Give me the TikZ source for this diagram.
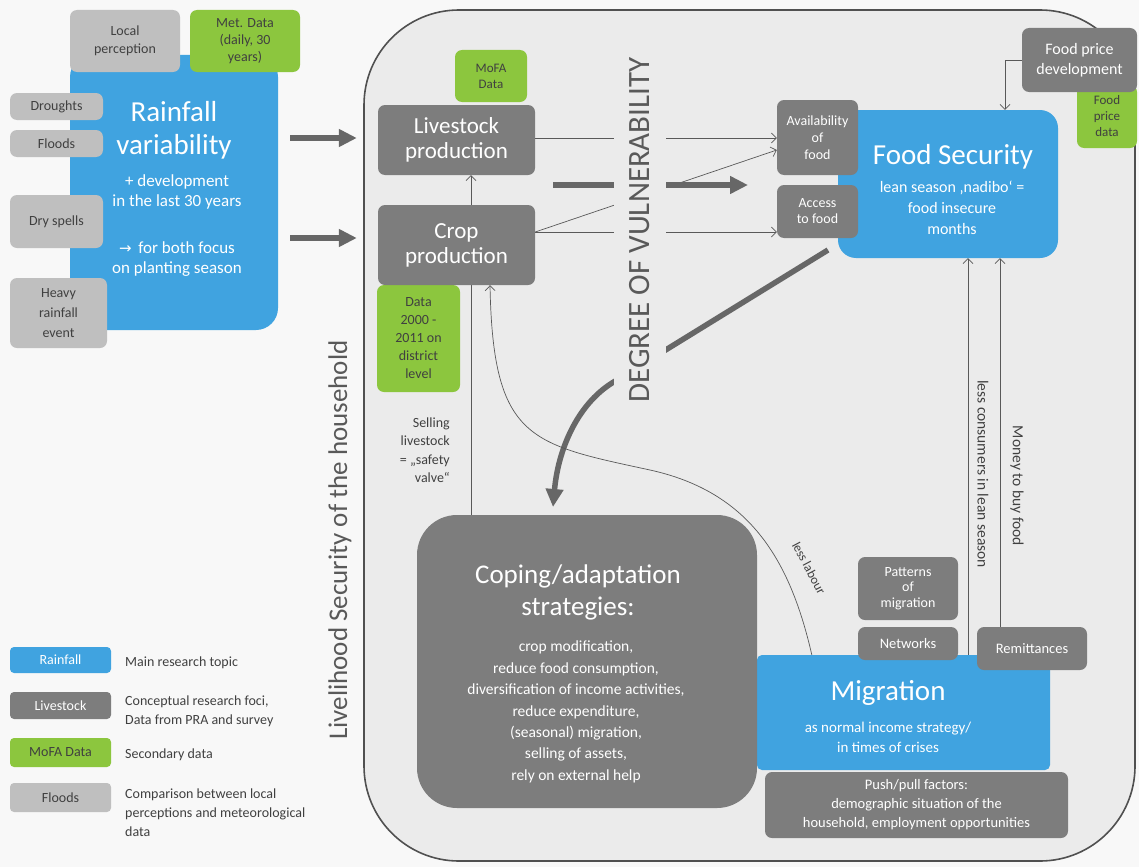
\documentclass[tikz,border=0pt]{standalone}
\usepackage{fontspec}
\setmainfont{Carlito}
\newfontfamily\symfont{DejaVu Sans}
\usetikzlibrary{arrows.meta,calc}
\definecolor{cblue}{HTML}{40A3E0}
\definecolor{cdark}{HTML}{7D7D7D}
\definecolor{clight}{HTML}{BFBFBF}
\definecolor{cgreen}{HTML}{8CC63E}
\definecolor{cbg}{HTML}{EBEBEB}
\definecolor{cpage}{HTML}{F8F8F8}
\definecolor{cborder}{HTML}{505050}
\definecolor{cline}{HTML}{595959}
\definecolor{cthick}{HTML}{676767}
\definecolor{ctext}{HTML}{404040}
\newcommand\myfs[2]{\fontsize{#1}{#2}\selectfont}
\pgfdeclarelayer{bglayer}
\pgfdeclarelayer{midlayer}
\pgfsetlayers{bglayer,midlayer,main}
\begin{document}
\begin{tikzpicture}[x=1pt,y=-1pt,
  bx/.style={rounded corners=7pt, align=center, inner sep=1pt},
  dbox/.style={bx, fill=cdark, text=white},
  lbox/.style={bx, fill=clight, text=ctext},
  gbox/.style={bx, fill=cgreen, text=ctext},
  bbox/.style={bx, fill=cblue, text=white},
  wtext/.style={text=white, align=center, inner sep=0pt},
  ltext/.style={text=ctext, align=left, anchor=west, inner sep=0pt, font=\myfs{14}{19}},
  conn/.style={draw=cline, line width=0.7pt},
  arr/.style={conn, -{Straight Barb[length=5pt,width=10pt]}},
  fat/.style={draw=cthick, line width=5.5pt, -{Triangle[length=18pt,width=17pt]}},
]
\useasboundingbox (0,0) rectangle (1139,867);
\begin{pgfonlayer}{bglayer}
\fill[cpage] (0,0) rectangle (1139,867);
\draw[draw=cborder, line width=1.6pt, fill=cbg] (364,430) [rounded corners=95pt] -- (364,10) -- (1135,10) -- (1135,861) -- (364,861) -- cycle;
\end{pgfonlayer}

% --- Rainfall cluster
\node[bbox, rounded corners=22pt, minimum width=208, minimum height=275] (rain) at (174,192.5) {};
\node[wtext, font=\myfs{29}{33}] (raint) at (174,130) {Rainfall\\variability};
\node[wtext, font=\myfs{17}{20}] (rains1) at (177,192) {+ development\\in the last 30 years};
\node[wtext, font=\myfs{17}{20}] (rains2) at (177,259) {{\symfont\myfs{15}{20}→}\, for both focus\\on planting season};
\node[lbox, minimum width=110, minimum height=62, font=\myfs{14}{18}] (local) at (125,41) {Local\\perception};
\node[gbox, minimum width=110, minimum height=62, font=\myfs{14}{17}] (met) at (245,41) {Met. Data\\(daily, 30\\years)};
\node[lbox, minimum width=93, minimum height=27, font=\myfs{14}{17}] (drought) at (56.5,106.5) {Droughts};
\node[lbox, minimum width=93, minimum height=27, font=\myfs{14}{17}] (flood) at (56.5,143.5) {Floods};
\node[lbox, minimum width=93, minimum height=53, font=\myfs{14}{17}] (dry) at (56.5,221.5) {Dry spells};
\node[lbox, minimum width=97, minimum height=70, font=\myfs{14}{20}] (heavy) at (58.5,313) {Heavy\\rainfall\\event};

% --- production
\node[gbox, minimum width=72, minimum height=52, font=\myfs{13}{16}] (mofa) at (491,76) {MoFA\\Data};
\node[dbox, minimum width=157, minimum height=70, font=\myfs{23}{25}] (live) at (456.5,140) {Livestock\\production};
\node[gbox, minimum width=83, minimum height=107, font=\myfs{14}{18}] (datag) at (418.5,338.5) {Data\\2000 -\\2011 on\\district\\level};
\node[dbox, minimum width=157, minimum height=80, font=\myfs{23}{25}] (crop) at (456.5,245) {Crop\\production};
\node[text=ctext, align=right, anchor=east, inner sep=0pt, font=\myfs{14}{18.5}] (safety) at (450,450) {Selling\\livestock\\= „safety\\valve“};

\node[rotate=90, fill=cbg, text=cline, inner xsep=0pt, inner ysep=16pt, font=\myfs{31}{31}] (dov) at (640,230) {DEGREE OF VULNERABILITY};

% --- food security
\node[bbox, rounded corners=18pt, minimum width=220, minimum height=148] (fs) at (948,184) {};
\node[wtext, font=\myfs{29}{30}] (fst) at (953,157) {Food Security};
\node[wtext, font=\myfs{16}{21}] (fss) at (952,208) {lean season ‚nadibo‘ =\\food insecure\\months};
\node[dbox, minimum width=81, minimum height=75, font=\myfs{14}{17}] (avail) at (817.5,137.5) {Availability\\of\\food};
\node[dbox, minimum width=81, minimum height=53, font=\myfs{14}{16}] (access) at (817.5,211.5) {Access\\to food};
\node[gbox, minimum width=60, minimum height=63, font=\myfs{13}{16}] (fpdata) at (1107,116.5) {Food\\price\\data};
\node[dbox, minimum width=115, minimum height=64, font=\myfs{16}{20}] (fpd) at (1079.5,60) {Food price\\development};

% --- coping & migration
\node[bbox, rounded corners=5pt, minimum width=293, minimum height=115] (mig) at (903.5,712.5) {};
\node[wtext, font=\myfs{29}{30}] (migt) at (888,693) {Migration};
\node[wtext, font=\myfs{15}{20}] (migs) at (888,737) {as normal income strategy/\\in times of crises};
\node[dbox, rounded corners=40pt, minimum width=340, minimum height=293] (coping) at (587,661.5) {};
\node[wtext, font=\myfs{27}{32}] (copt) at (578,592) {Coping/adaptation\\strategies:};
\node[wtext, font=\myfs{15.5}{21.4}] (copl) at (576,712) {crop modification,\\reduce food consumption,\\diversification of income activities,\\reduce expenditure,\\(seasonal) migration,\\selling of assets,\\rely on external help};
\node[dbox, minimum width=100, minimum height=63, font=\myfs{14}{15.5}] (pat) at (908,588.5) {Patterns\\of\\migration};
\node[dbox, minimum width=100, minimum height=33, font=\myfs{14.5}{16}] (net) at (908,643.5) {Networks};
\node[dbox, minimum width=110, minimum height=43, font=\myfs{14.5}{16}] (rem) at (1032,648.5) {Remittances};
\node[dbox, minimum width=303, minimum height=66, font=\myfs{14.5}{19}] (push) at (916.5,805) {Push/pull factors:\\demographic situation of the\\household, employment opportunities};

% --- labels
\node[text=ctext, rotate=-90, inner sep=0pt, font=\myfs{15.5}{16}] (lcl) at (983,474) {less consumers in lean season};
\node[text=ctext, rotate=-90, inner sep=0pt, font=\myfs{15.5}{16}] (mbl) at (1017,486) {Money to buy food};
\node[text=ctext, rotate=-62, inner sep=0pt, font=\myfs{13}{15}] (ll) at (809,568) {less labour};
\node[text=cline, rotate=90, inner sep=0pt, font=\myfs{27}{28}] (lsh) at (340,540) {Livelihood Security of the household};

% --- legend
\node[bbox, rounded corners=4pt, minimum width=101, minimum height=26, font=\myfs{14}{16}] (lg1) at (60.5,660) {Rainfall};
\node[dbox, rounded corners=4pt, minimum width=101, minimum height=27, font=\myfs{14}{16}] (lg2) at (60.5,705.5) {Livestock};
\node[gbox, rounded corners=4pt, minimum width=101, minimum height=29, font=\myfs{14}{16}] (lg3) at (60.5,752.5) {MoFA Data};
\node[lbox, rounded corners=4pt, minimum width=101, minimum height=29, font=\myfs{14}{16}] (lg4) at (60.5,797.5) {Floods};
\node[ltext] (lt1) at (125,663) {Main research topic};
\node[ltext] (lt2) at (125,711) {Conceptual research foci,\\Data from PRA and survey};
\node[ltext] (lt3) at (125,755) {Secondary data};
\node[ltext] (lt4) at (125,812.5) {Comparison between local\\perceptions and meteorological\\data};

% --- connectors
\begin{pgfonlayer}{midlayer}
\draw[fat, shorten <=12pt, shorten >=21pt] (rain.east |- 0,138) -- (live.west |- 0,138);
\draw[fat, shorten <=12pt, shorten >=21pt] (rain.east |- 0,238) -- (crop.west |- 0,238);
\draw[arr] (live.east |- 0,138) -- (avail.west |- 0,138);
\draw[arr] (crop.east |- 0,232) -- (avail.west |- 0,150);
\draw[arr] (crop.east |- 0,232) -- (access.west |- 0,232);
\coordinate (ts) at (553,185);
\coordinate (te) at (748,185);
\draw[fat, line width=6pt] (ts) -- (te);
\coordinate (fa) at (828,250);
\coordinate (fb) at (553,507);
\draw[fat] (fa) -- (612,383) .. controls (577,405) and (558,450) .. (fb);
\draw[arr] (fpd.west) -| ($(fs.north)+(57,0)$);
\coordinate (sv) at ($(crop.south)+(14.5,0)$);
\draw[conn] (sv) -- (sv |- coping.north);
\draw[arr] (sv |- crop.north) -- (sv |- live.south);
\draw[arr] ($(mig.north west)+(55,0)$) .. controls (790,560) and (750,492) .. (650,470) .. controls (530,444) and (493,440) .. ($(crop.south)+(33.5,0)$);
\coordinate (lc) at (968,0);
\coordinate (mb) at (1000,0);
\draw[arr] (mig.north -| lc) -- (fs.south -| lc);
\draw[arr] (rem.north -| mb) -- (fs.south -| mb);
\end{pgfonlayer}
\end{tikzpicture}
\end{document}
